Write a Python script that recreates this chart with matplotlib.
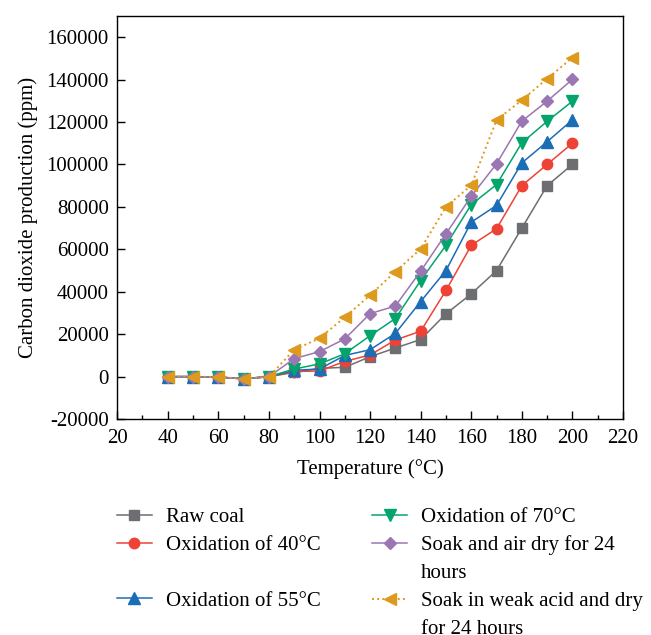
import matplotlib
matplotlib.use("Agg")
import matplotlib.pyplot as plt
from matplotlib.lines import Line2D
from matplotlib.ticker import MultipleLocator

plt.rcParams['font.family'] = ['Liberation Serif', 'DejaVu Serif']
plt.rcParams['axes.unicode_minus'] = False

temps = [40, 50, 60, 70, 80, 90, 100, 110, 120, 130, 140, 150, 160, 170, 180, 190, 200]

raw_coal = [0, 0, -200, -1000, 0, 2000, 3900, 4400, 9400, 13500, 17500, 29600, 39000, 50000, 70000, 90000, 100000]
ox_40 = [0, 0, -200, -1000, 0, 2400, 2700, 7200, 10200, 17300, 21400, 40600, 61900, 69700, 90000, 100000, 110000]
ox_55 = [0, 0, -200, -1000, 0, 3000, 3600, 10000, 12700, 20400, 35400, 50000, 72800, 80700, 100700, 110700, 121000]
ox_70 = [0, 0, -200, -1000, 0, 3600, 6000, 10800, 19300, 27400, 45300, 61900, 81100, 90500, 110200, 120300, 129800]
soak_air = [0, 0, -200, -1000, 0, 8500, 11800, 17800, 29700, 33300, 49700, 67300, 85000, 100300, 120400, 129800, 140100]
soak_acid = [0, 0, -200, -1000, 0, 12700, 18100, 28000, 38400, 49500, 60200, 80000, 90200, 120900, 130300, 140400, 150300]

labels = ["Raw coal", "Oxidation of 40°C", "Oxidation of 55°C", "Oxidation of 70°C",
          "Soak and air dry for 24 hours", "Soak in weak acid and dry for 24 hours"]

fig = plt.figure(figsize=(6.51, 6.35), dpi=100)
ax = fig.add_axes([0.180, 0.340, 0.777, 0.635])

styles = [
    (raw_coal, '#6d6e71', 's', 7, '-'),
    (ox_40, '#ee4236', 'o', 7.5, '-'),
    (ox_55, '#1b6db6', '^', 8.5, '-'),
    (ox_70, '#03a56c', 'v', 8.5, '-'),
    (soak_air, '#9a76b3', 'D', 6.5, '-'),
    (soak_acid, '#de9a1c', '<', 8.5, ':'),
]

handles = []
for (vals, color, marker, ms, ls), label in zip(styles, labels):
    line, = ax.plot(temps, vals, color=color, marker=marker, markersize=ms,
                    linestyle=ls, linewidth=1.4 if ls == ':' else 1.1, label=label)
    handles.append(line)

ax.set_xlim(20, 220)
ax.set_ylim(-20000, 170000)
ax.xaxis.set_major_locator(MultipleLocator(20))
ax.xaxis.set_minor_locator(MultipleLocator(10))
ax.yaxis.set_major_locator(MultipleLocator(20000))
ax.ticklabel_format(axis='y', style='plain', useOffset=False)
ax.tick_params(which='both', direction='in', top=False, right=False, labelsize=15)
ax.tick_params(axis='x', pad=7)
ax.tick_params(axis='y', pad=6)
ax.tick_params(which='major', length=6, width=1)
ax.tick_params(which='minor', length=3, width=1)
for sp in ax.spines.values():
    sp.set_linewidth(1.0)

ax.set_xlabel("Temperature (°C)", fontsize=15, labelpad=8)
ax.set_ylabel("Carbon dioxide production (ppm)", fontsize=15, labelpad=6)

# legend laid out as two columns with wrapped labels
blank = Line2D([], [], linestyle='none')
leg_handles = [handles[0], handles[1], blank, handles[2], blank,
               handles[3], handles[4], blank, handles[5], blank]
leg_labels = [labels[0], labels[1], " ", labels[2], " ",
              labels[3], "Soak and air dry for 24", "hours",
              "Soak in weak acid and dry", "for 24 hours"]
fig.legend(leg_handles, leg_labels, ncol=2, loc='upper left',
           bbox_to_anchor=(0.180, 0.201), frameon=False, fontsize=15,
           handlelength=1.65, handletextpad=0.67, columnspacing=2.5,
           labelspacing=0.40, borderaxespad=0, borderpad=0)

fig.savefig("out.png", dpi=100)
